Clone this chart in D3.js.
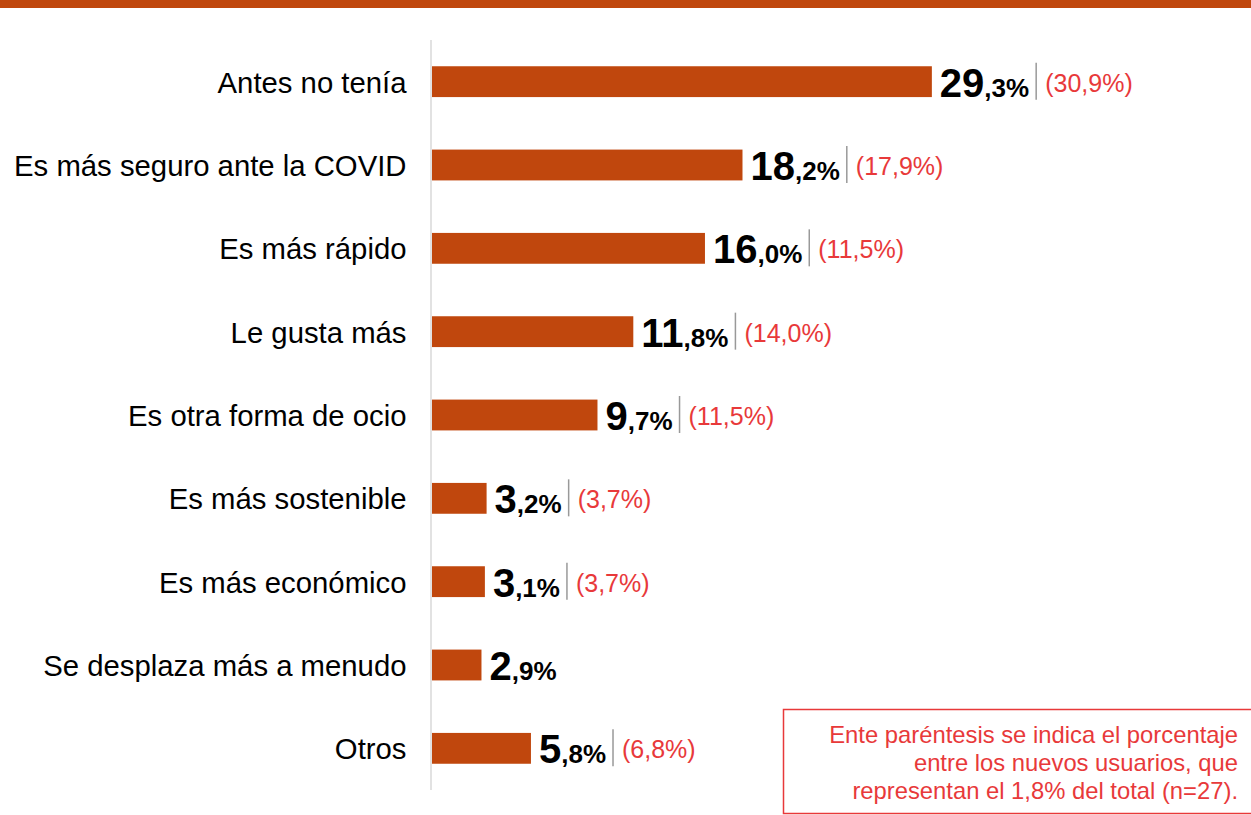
<!DOCTYPE html>
<html>
<head>
<meta charset="utf-8">
<script src="https://cdn.jsdelivr.net/npm/d3@7"></script>
<style>
  html, body { margin: 0; padding: 0; background: #fff; }
  svg { display: block; font-family: "Liberation Sans", Arial, sans-serif; }
</style>
</head>
<body>
<svg id="chart" width="1251" height="815"></svg>
<script>
const CATEGORIES = [
  "Antes no tenía",
  "Es más seguro ante la COVID",
  "Es más rápido",
  "Le gusta más",
  "Es otra forma de ocio",
  "Es más sostenible",
  "Es más económico",
  "Se desplaza más a menudo",
  "Otros"
];

// porcentaje sobre el total
const VALUES = [29.3, 18.2, 16.0, 11.8, 9.7, 3.2, 3.1, 2.9, 5.8];

// porcentaje entre los nuevos usuarios (entre paréntesis)
const NEW_USERS = [30.9, 17.9, 11.5, 14.0, 11.5, 3.7, 3.7, null, 6.8];

const NOTE = [
  "Ente paréntesis se indica el porcentaje",
  "entre los nuevos usuarios, que",
  "representan el 1,8% del total (n=27)."
];

const BAR = "#c0470d";
const RED = "#e8393a";

const width = 1251;
const height = 815;
const margin = { top: 40, bottom: 25, left: 432 };

const es = d3.formatLocale({ decimal: ",", thousands: ".", grouping: [3], currency: ["", "€"] });
const fmt = es.format(".1f");

const data = CATEGORIES.map((c, i) => ({ name: c, value: VALUES[i], extra: NEW_USERS[i] }));

const svg = d3.select("#chart");

// franja superior
svg.append("rect")
  .attr("x", 0).attr("y", 0)
  .attr("width", width).attr("height", 8)
  .attr("fill", BAR);

const x = d3.scaleLinear()
  .domain([0, 30])
  .range([margin.left, margin.left + 30 * 17.06]);

const y = d3.scaleBand()
  .domain(CATEGORIES)
  .range([margin.top, height - margin.bottom])
  .paddingInner(0.63)
  .paddingOuter(0.315);

// eje vertical
svg.append("line")
  .attr("x1", x(0) - 1).attr("x2", x(0) - 1)
  .attr("y1", margin.top).attr("y2", height - margin.bottom)
  .attr("stroke", "#d9d9d9")
  .attr("stroke-width", 1.5);

svg.append("g")
  .attr("fill", BAR)
  .selectAll("rect")
  .data(data)
  .join("rect")
  .attr("x", x(0))
  .attr("y", d => y(d.name))
  .attr("width", d => x(d.value) - x(0))
  .attr("height", y.bandwidth());

// etiquetas de categoría
svg.append("g")
  .selectAll("text")
  .data(data)
  .join("text")
  .attr("x", x(0) - 25.5)
  .attr("y", d => y(d.name) + y.bandwidth() / 2 + 11)
  .attr("text-anchor", "end")
  .attr("font-size", 29.3)
  .attr("fill", "#000")
  .text(d => d.name);

// etiquetas de valor
const labels = svg.append("g")
  .selectAll("g")
  .data(data)
  .join("g")
  .attr("transform", d => `translate(${x(d.value) + 8},${y(d.name) + y.bandwidth() / 2})`);

labels.each(function (d) {
  const g = d3.select(this);
  const parts = fmt(d.value).split(",");
  const t = g.append("text")
    .attr("y", 15)
    .attr("font-weight", "bold")
    .attr("fill", "#000");
  t.append("tspan").attr("font-size", 40).text(parts[0]);
  t.append("tspan").attr("font-size", 26).text("," + parts[1] + "%");
  if (d.extra == null) return;
  const w = t.node().getComputedTextLength();
  g.append("line")
    .attr("x1", w + 7).attr("x2", w + 7)
    .attr("y1", -19).attr("y2", 18)
    .attr("stroke", "#999")
    .attr("stroke-width", 1.5);
  g.append("text")
    .attr("x", w + 16)
    .attr("y", 10)
    .attr("font-size", 25)
    .attr("fill", RED)
    .text("(" + fmt(d.extra) + "%)");
});

// nota
svg.append("rect")
  .attr("x", 783.5).attr("y", 709.5)
  .attr("width", 480).attr("height", 104)
  .attr("fill", "none")
  .attr("stroke", RED)
  .attr("stroke-width", 1.5);

svg.append("g")
  .selectAll("text")
  .data(NOTE)
  .join("text")
  .attr("x", 1238)
  .attr("y", (d, i) => 743 + i * 28)
  .attr("text-anchor", "end")
  .attr("font-size", 23.8)
  .attr("fill", RED)
  .text(d => d);
</script>
</body>
</html>
